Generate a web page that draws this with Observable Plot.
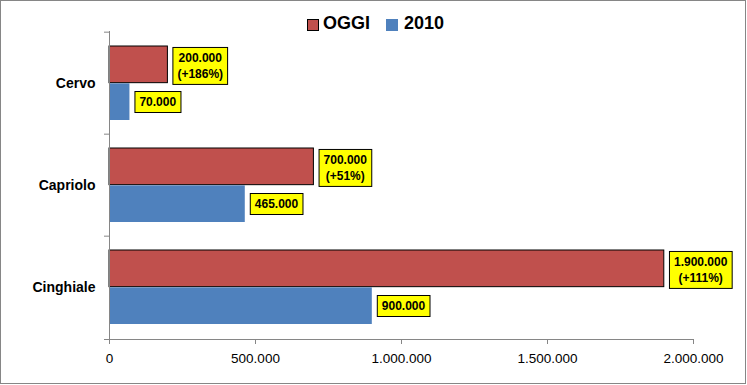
<!DOCTYPE html>
<html>
<head>
<meta charset="utf-8">
<script src="https://cdn.jsdelivr.net/npm/d3@7"></script>
<script src="https://cdn.jsdelivr.net/npm/@observablehq/plot@0.6"></script>
<style>
  html, body { margin: 0; padding: 0; background: #fff; }
  #box { position: relative; width: 744px; height: 382px; border: 1px solid #868686; background: #fff; font-family: "Liberation Sans", Arial, sans-serif; }
  #legend { position: relative; height: 28px; }
  #legend .sw { position: absolute; top: 18px; width: 12px; height: 12px; box-sizing: border-box; }
  #legend .lb { position: absolute; top: 13px; font-size: 18px; line-height: 18px; font-weight: bold; color: #000; white-space: nowrap; }
  svg { display: block; }
</style>
</head>
<body>
<div id="box">
  <div id="legend"></div>
  <div id="chart"></div>
</div>
<script>
// ---- data ----
const categories = ["Cervo", "Capriolo", "Cinghiale"];
const seriesNames = ["OGGI", "2010"];
const valuesOggi = [200000, 700000, 1900000];
const values2010 = [70000, 465000, 900000];
const changeOggi = ["+186%", "+51%", "+111%"];
const xTicks = [0, 500000, 1000000, 1500000, 2000000];
const xDomain = [0, 2000000];

// ---- styles ----
const colors = {"OGGI": "#C0504D", "2010": "#4F81BD"};
const axisGray = "#868686";

const locale = d3.formatLocale({decimal: ",", thousands: ".", grouping: [3], currency: ["€", ""]});
const fmt = locale.format(",d");

const rowsOggi = categories.map((c, i) => ({cat: c, value: valuesOggi[i], label: fmt(valuesOggi[i]) + "\n(" + changeOggi[i] + ")"}));
const rows2010 = categories.map((c, i) => ({cat: c, value: values2010[i], label: fmt(values2010[i])}));

// legend
const legend = document.getElementById("legend");
const legendPos = [{sw: 305.5, lb: 322, border: true}, {sw: 385, lb: 403, border: false}];
seriesNames.forEach((s, i) => {
  const sw = document.createElement("div");
  sw.className = "sw";
  sw.style.left = legendPos[i].sw + "px";
  sw.style.background = colors[s];
  if (legendPos[i].border) sw.style.border = "1px solid #000";
  legend.appendChild(sw);
  const lb = document.createElement("div");
  lb.className = "lb";
  lb.style.left = legendPos[i].lb + "px";
  lb.textContent = s;
  legend.appendChild(lb);
});

const W = 744, H = 354, mt = 2, mb = 44, ml = 108, mr = 52;
const step = (H - mt - mb) / categories.length;
const edge = 14;

const svg = Plot.plot({
  width: W,
  height: H,
  marginTop: mt,
  marginBottom: mb,
  marginLeft: ml,
  marginRight: mr,
  style: {fontFamily: "Liberation Sans, Arial, sans-serif", fontSize: "13.5px", color: "#000", background: "#fff", overflow: "visible"},
  x: {domain: xDomain, label: null},
  y: {type: "band", domain: categories, padding: 0, label: null},
  marks: [
    Plot.barX(rowsOggi, {x: "value", y: "cat", fill: colors["OGGI"], stroke: "#000", strokeWidth: 1, insetTop: edge, insetBottom: step / 2}),
    Plot.barX(rows2010, {x: "value", y: "cat", fill: colors["2010"], insetTop: step / 2, insetBottom: edge}),
    Plot.ruleX([0], {stroke: axisGray}),
    Plot.frame({anchor: "bottom", stroke: axisGray, insetLeft: -5}),
    Plot.axisX({ticks: xTicks, tickFormat: fmt, tickSize: 5, tickPadding: 9.3, stroke: axisGray, fill: "#000", fontSize: 13.5, label: null}),
    Plot.axisY({tickSize: 5, text: null, dy: -step / 2, stroke: axisGray, label: null}),
    Plot.axisY({tickSize: 0, tickPadding: 14, fontWeight: "bold", fontSize: 14, fill: "#000", label: null}),
    Plot.text(rowsOggi, {x: "value", y: "cat", text: "label", dx: 9.5, dy: edge / 2 - step / 4, textAnchor: "start", lineAnchor: "middle", fontWeight: "bold", fontSize: 12, lineHeight: 1.33, fill: "#000"}),
    Plot.text(rows2010, {x: "value", y: "cat", text: "label", dx: 9.5, dy: step / 4 - edge / 2, textAnchor: "start", lineAnchor: "middle", fontWeight: "bold", fontSize: 12, fill: "#000"})
  ]
});
document.getElementById("chart").appendChild(svg);

// label boxes (yellow, black border) behind the data labels
svg.querySelectorAll('g[aria-label="text"] text').forEach(t => {
  const tspans = t.querySelectorAll("tspan");
  let bb = t.getBBox();
  if (tspans.length > 1) {
    tspans.forEach(ts => {
      const lw = ts.getComputedTextLength();
      ts.setAttribute("x", (bb.width - lw) / 2);
    });
    bb = t.getBBox();
  }
  const padX = 4.5, padY = 3.5;
  const r = document.createElementNS("http://www.w3.org/2000/svg", "rect");
  r.setAttribute("x", bb.x - padX);
  r.setAttribute("y", bb.y - padY);
  r.setAttribute("width", bb.width + 2 * padX);
  r.setAttribute("height", bb.height + 2 * padY);
  r.setAttribute("fill", "#FFFF00");
  r.setAttribute("stroke", "#000");
  r.setAttribute("stroke-width", 1);
  const tr = t.getAttribute("transform");
  if (tr) r.setAttribute("transform", tr);
  t.parentNode.insertBefore(r, t);
});
</script>
</body>
</html>
